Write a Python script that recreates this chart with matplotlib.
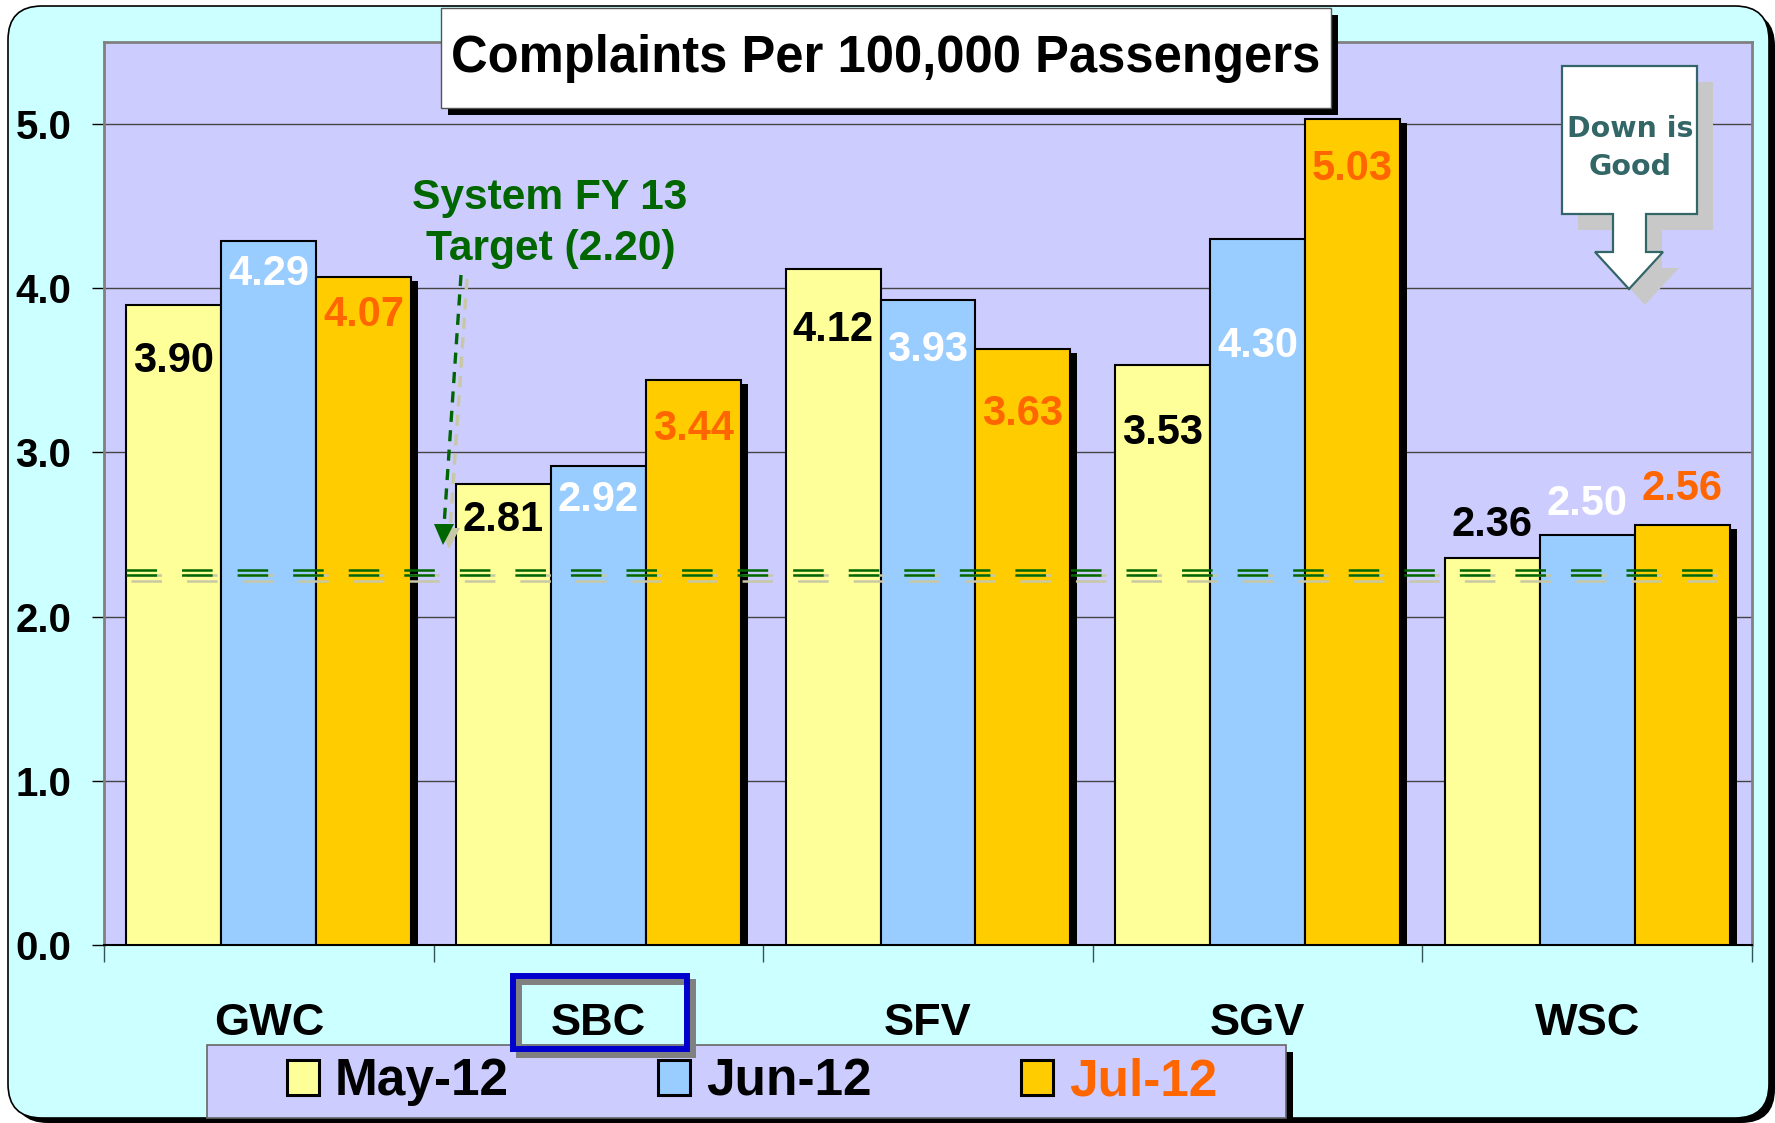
import matplotlib
matplotlib.use("Agg")
import matplotlib.pyplot as plt
import matplotlib.patheffects as pe
from matplotlib.patches import FancyBboxPatch, Rectangle, Polygon
from matplotlib.lines import Line2D
from matplotlib.transforms import IdentityTransform, blended_transform_factory
import numpy as np

W, H = 1775, 1123

regions = ["GWC", "SBC", "SFV", "SGV", "WSC"]
months = ["May-12", "Jun-12", "Jul-12"]
may = [3.90, 2.81, 4.12, 3.53, 2.36]
jun = [4.29, 2.92, 3.93, 4.30, 2.50]
jul = [4.07, 3.44, 3.63, 5.03, 2.56]
target = 2.20
target_level = 2.27      # where the dashed target line sits in the picture
yticks = [0.0, 1.0, 2.0, 3.0, 4.0, 5.0]

# where the value labels sit: px from bar top to label centre (negative = above bar)
off_may = [52, 32, 57, 64, -37]
off_jun = [29, 30, 46, 103, -35]
off_jul = [34, 45, 61, 46, -40]

c_may, c_jun, c_jul = "#FFFF99", "#99CCFF", "#FFCC00"
green = "#006600"
teal = "#336666"

plt.rcParams['font.family'] = ['Liberation Sans', 'DejaVu Sans']
plt.rcParams['font.weight'] = 'bold'
plt.rcParams['lines.scale_dashes'] = False

fig = plt.figure(figsize=(W / 100, H / 100), dpi=100)
fig.patch.set_facecolor('white')
ID = IdentityTransform()


def box(x0, y0, x1, y1, z, r=None, **kw):
    # rectangle in pixel coords, measured from the top-left corner
    if r is None:
        p = Rectangle((x0, H - y1), x1 - x0, y1 - y0, transform=ID, zorder=z, **kw)
    else:
        p = FancyBboxPatch((x0, H - y1), x1 - x0, y1 - y0, boxstyle=f"round,pad=0,rounding_size={r}",
                           transform=ID, zorder=z, **kw)
    fig.add_artist(p)
    return p


def ftext(x, y, s, **kw):
    fig.text(x / W, 1 - y / H, s, **kw)


# outer cyan panel with shadow
box(14, 12, 1775, 1123, -20, r=34, fc='black', ec='none')
box(8, 6, 1769, 1118, -19, r=34, fc='#CCFFFF', ec='black', lw=1.2)

# axes
ax = fig.add_axes([104 / W, 1 - 945 / H, (1752 - 104) / W, (945 - 42) / H])
ax.set_facecolor('#CCCCFF')
ax.set_xlim(0, 5)
ax.set_ylim(0, 5.5)
ax.set_axisbelow(True)
ax.yaxis.grid(True, color='#444444', lw=1)

x = np.arange(len(regions)) + 0.5
bw = 0.288
b1 = ax.bar(x - bw, may, bw, color=c_may, edgecolor='black', lw=1.5, label=months[0], zorder=3)
b2 = ax.bar(x, jun, bw, color=c_jun, edgecolor='black', lw=1.5, label=months[1], zorder=3)
b3 = ax.bar(x + bw, jul, bw, color=c_jul, edgecolor='black', lw=1.5, label=months[2], zorder=3,
            path_effects=[pe.SimplePatchShadow(offset=(5, -3), shadow_rgbFace='black', alpha=1), pe.Normal()])

for xs, vals, offs, col in [(x - bw, may, off_may, 'black'), (x, jun, off_jun, 'white'),
                            (x + bw, jul, off_jul, '#FF6600')]:
    for xi, v, o in zip(xs, vals, offs):
        ax.annotate(f"{v:.2f}", (xi, v), xytext=(0, -(o + 15)), textcoords='offset pixels',
                    ha='center', va='baseline', fontsize=30, color=col, zorder=6)

# target line (double dashed green with a pale shadow)
tx = [x[0] - 1.5 * bw, x[-1] + 1.5 * bw]
for dy in (0.017, -0.017):
    ax.plot(tx, [target_level + dy] * 2, color=green, lw=1.8, dashes=(22, 18), zorder=4,
            path_effects=[pe.SimpleLineShadow(offset=(3.6, -4), shadow_color='#C8C8A6', alpha=1), pe.Normal()])

for s in ['left', 'top', 'right']:
    ax.spines[s].set_color('#808080')
    ax.spines[s].set_linewidth(2)
ax.spines['bottom'].set_color('black')
ax.spines['bottom'].set_linewidth(1.5)

ax.set_yticks(yticks)
ax.set_yticklabels([f"{t:.1f}" for t in yticks])
ax.tick_params(axis='y', length=8.6, width=1, color='black', pad=15, labelsize=29)
ax.set_xticks(np.arange(len(regions) + 1))
ax.set_xticklabels([])
ax.tick_params(axis='x', length=12, width=1, color='#335555')

tr = blended_transform_factory(ax.transData, fig.transFigure)
for xi, r in zip(x, regions):
    ax.text(xi, 1 - 1035 / H, r, transform=tr, ha='center', va='baseline', fontsize=32.5)

# title box
box(448, 15, 1338, 115, 8, fc='black', ec='none')
box(441, 8, 1331, 108, 9, fc='white', ec='#555555', lw=1)
ftext(886, 72, "Complaints Per 100,000 Passengers", ha='center', va='baseline', fontsize=36.5, zorder=10)

# target annotation
ftext(550, 209, "System FY 13", ha='center', va='baseline', fontsize=30.6, color=green, zorder=10)
ftext(551, 260, "Target (2.20)", ha='center', va='baseline', fontsize=30.6, color=green, zorder=10)
for dx, dy, col, z in [(6, 4, '#C8C8A6', 7), (0, 0, green, 8)]:
    fig.add_artist(Line2D([461 + dx, 444 + dx], [H - 275 - dy, H - 526 - dy], transform=ID,
                          color=col, lw=2.4, dashes=(8, 6), zorder=z))
    fig.add_artist(Polygon([(434 + dx, H - 524 - dy), (454 + dx, H - 524 - dy), (443 + dx, H - 545 - dy)],
                           closed=True, transform=ID, fc=col, ec='none', zorder=z))

# "Down is Good" arrow callout
arrow = [(1562, 66), (1697, 66), (1697, 214), (1646, 214), (1646, 252), (1663, 252),
         (1629, 289), (1595, 252), (1613, 252), (1613, 214), (1562, 214)]
fig.add_artist(Polygon([(px + 16, H - py - 16) for px, py in arrow], closed=True, transform=ID,
                       fc='#C8C8C8', ec='none', zorder=7))
fig.add_artist(Polygon([(px, H - py) for px, py in arrow], closed=True, transform=ID,
                       fc='white', ec=teal, lw=1.6, zorder=8))
ftext(1630, 137, "Down is", ha='center', va='baseline', fontsize=20.5, color=teal,
      family='DejaVu Sans', zorder=10)
ftext(1630, 175, "Good", ha='center', va='baseline', fontsize=20.5, color=teal,
      family='DejaVu Sans', zorder=10)

# legend
box(214, 1052, 1293, 1125, 2, fc='black', ec='none')
box(207, 1045, 1286, 1118, 3, fc='#CCCCFF', ec='#666666', lw=1.2)
leg = fig.legend(handles=[b1, b2, b3], labels=months, loc='center', bbox_to_anchor=(752 / W, 1 - 1082 / H),
                 ncol=3, frameon=False, fontsize=37, handlelength=0.63, handleheight=0.66,
                 handletextpad=0.31, columnspacing=2.9, borderpad=0)
for h in leg.legend_handles:
    h.set_path_effects([])
    h.set_linewidth(2.2)
leg.get_texts()[2].set_color('#FF6600')
leg.set_zorder(5)

# SBC highlight box
box(519, 982, 693, 1055, 6, fc='none', ec='#808080', lw=4.3)
box(513, 976, 687, 1049, 7, fc='none', ec='#0000CC', lw=4.3)

fig.savefig("out.png", dpi=100)
